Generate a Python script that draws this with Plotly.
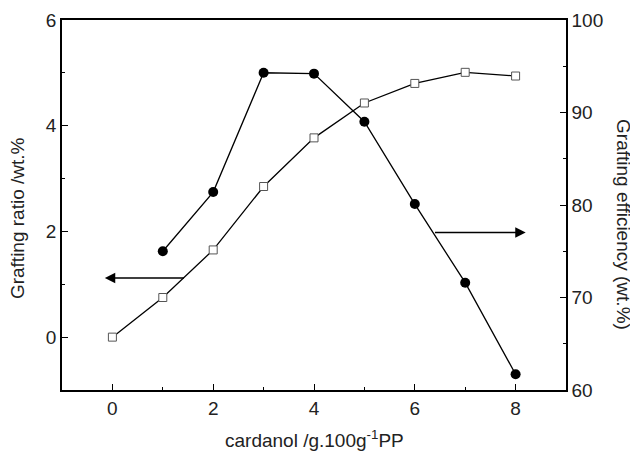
import plotly.graph_objects as go

# Data
cardanol_ratio = [0, 1, 2, 3, 4, 5, 6, 7, 8]
grafting_ratio = [0.0, 0.75, 1.65, 2.85, 3.77, 4.43, 4.80, 5.01, 4.94]

cardanol_eff = [1, 2, 3, 4, 5, 6, 7, 8]
grafting_eff = [75.0, 81.4, 94.3, 94.2, 89.0, 80.1, 71.6, 61.7]

x_ticks = [0, 2, 4, 6, 8]
y_left_ticks = [0, 2, 4, 6]
y_right_ticks = [60, 70, 80, 90, 100]

# arrows: (head_x, head_y, tail_x, tail_y) on x / left-y axes
arrow_left = (-0.15, 1.12, 1.45, 1.12)
arrow_right = (8.2, 1.98, 6.37, 1.98)

FONT = "Liberation Sans, Arial, sans-serif"
TXT = "#222222"

fig = go.Figure()

fig.add_trace(go.Scatter(
    x=cardanol_ratio, y=grafting_ratio, mode="lines+markers",
    line=dict(color="black", width=1.3),
    marker=dict(symbol="square", size=8, color="white",
                line=dict(color="#555555", width=1)),
    yaxis="y", showlegend=False,
))

fig.add_trace(go.Scatter(
    x=cardanol_eff, y=grafting_eff, mode="lines+markers",
    line=dict(color="black", width=1.3),
    marker=dict(symbol="circle", size=10, color="black"),
    yaxis="y2", showlegend=False,
))

axis_common = dict(
    showgrid=False, zeroline=False, showline=True, linecolor="black", linewidth=1.5,
    ticks="inside", ticklen=6, tickwidth=1.3, tickcolor="black", automargin=False,
    tickfont=dict(family=FONT, size=19, color=TXT),
)

fig.update_layout(
    width=638, height=459,
    margin=dict(l=54, r=80, t=12, b=77),
    paper_bgcolor="white", plot_bgcolor="white",
    xaxis=dict(range=[-1, 9], tickvals=x_ticks, mirror=True,
               minor=dict(ticks="inside", ticklen=3, tickwidth=1.3, dtick=1, tick0=0, tickcolor="black"),
               **axis_common),
    yaxis=dict(range=[-1, 6], tickvals=y_left_ticks,
               minor=dict(ticks="inside", ticklen=3, tickwidth=1.3, dtick=1, tick0=0, tickcolor="black"),
               **axis_common),
    yaxis2=dict(range=[60, 100], tickvals=y_right_ticks, overlaying="y", side="right",
                minor=dict(ticks="inside", ticklen=3, tickwidth=1.3, dtick=5, tick0=60, tickcolor="black"),
                **axis_common),
)

for hx, hy, tx, ty in (arrow_left, arrow_right):
    fig.add_annotation(
        x=hx, y=hy, ax=tx, ay=ty, xref="x", yref="y", axref="x", ayref="y",
        text="", showarrow=True, arrowhead=2, arrowsize=1.3, arrowwidth=1.6,
        arrowcolor="black",
    )

title_font = dict(family=FONT, size=19, color=TXT)
fig.add_annotation(
    text="Grafting ratio /wt.%", xref="paper", yref="paper",
    x=-0.087, y=0.465, textangle=-90, showarrow=False,
    xanchor="center", yanchor="middle", font=title_font,
)
fig.add_annotation(
    text="Grafting efficiency (wt.%)", xref="paper", yref="paper",
    x=1.113, y=0.446, textangle=90, showarrow=False,
    xanchor="center", yanchor="middle", font=title_font,
)
fig.add_annotation(
    text="cardanol /g.100g<sup>-1</sup>PP", xref="paper", yref="paper",
    x=0.501, y=-0.132, showarrow=False,
    xanchor="center", yanchor="middle", font=title_font,
)

fig.write_html("out.html")
